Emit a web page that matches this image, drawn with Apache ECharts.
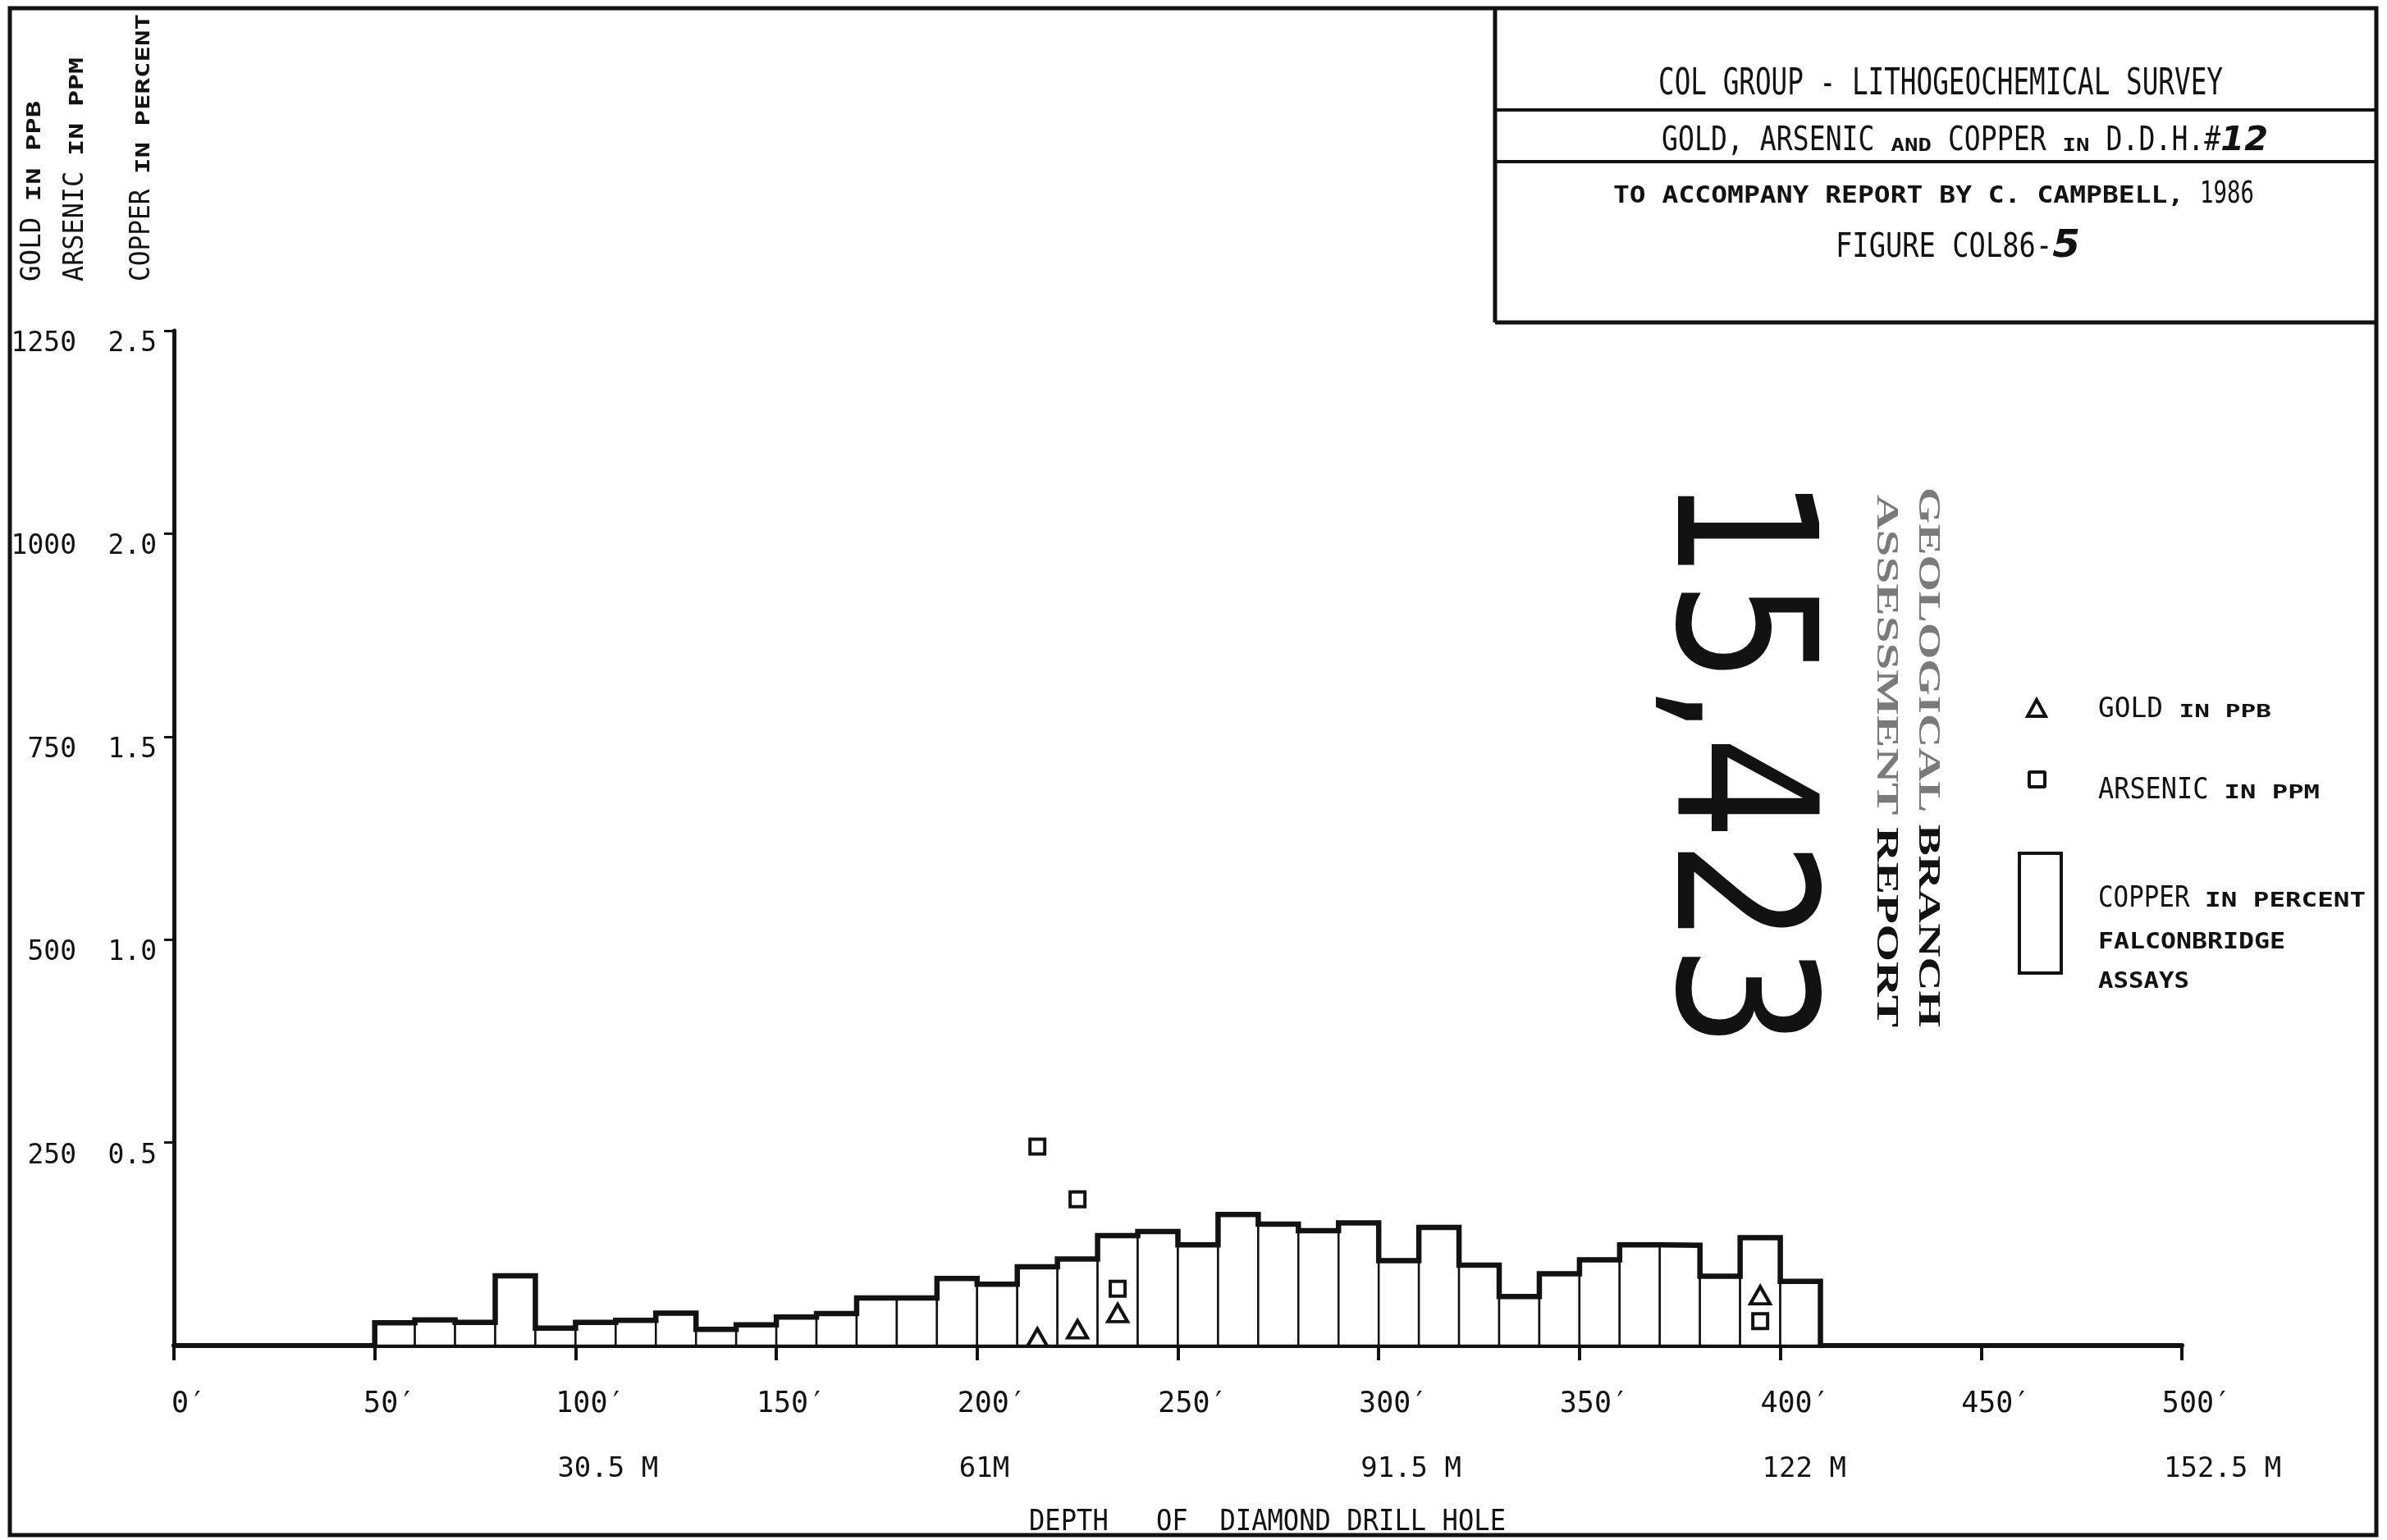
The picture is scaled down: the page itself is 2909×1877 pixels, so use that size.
<!DOCTYPE html>
<html>
<head>
<meta charset="utf-8">
<title>COL Group - Gold, Arsenic and Copper in D.D.H. #12</title>
<script src="https://cdn.jsdelivr.net/npm/echarts@6.0.0/dist/echarts.min.js"></script>
<style>
  html, body { margin: 0; padding: 0; background: #ffffff; }
  #chart { width: 2909px; height: 1877px; }
</style>
</head>
<body>
<div id="chart"></div>
<script>
// Copper assays (Falconbridge), one per 10-foot core interval
const sampleFrom = [50, 60, 70, 80, 90, 100, 110, 120, 130, 140, 150, 160, 170, 180, 190, 200, 210, 220,
                    230, 240, 250, 260, 270, 280, 290, 300, 310, 320, 330, 340, 350, 360, 370, 380, 390, 400];
const sampleTo   = [60, 70, 80, 90, 100, 110, 120, 130, 140, 150, 160, 170, 180, 190, 200, 210, 220, 230,
                    240, 250, 260, 270, 280, 290, 300, 310, 320, 330, 340, 350, 360, 370, 380, 390, 400, 410];
const copperPct  = [0.056, 0.063, 0.057, 0.172, 0.043, 0.057, 0.062, 0.080, 0.040, 0.051, 0.070, 0.079,
                    0.117, 0.117, 0.165, 0.151, 0.194, 0.213, 0.271, 0.281, 0.248, 0.323, 0.299, 0.283,
                    0.302, 0.209, 0.291, 0.198, 0.121, 0.177, 0.211, 0.248, 0.247, 0.171, 0.266, 0.158];

// Gold and arsenic determinations (depth in feet)
const assayDepth = [215, 225, 235, 395];
const goldPpb    = [10, 20, 40, 62];
const arsenicPpm = [245, 180, 70, 30];

// Metric equivalents printed under the foot scale
const metricFeet   = [100, 200, 300, 400, 500];
const metricLabels = ['30.5 M', '61M', '91.5 M', '122 M', '152.5 M'];

const INK = '#121212';

// ---- lettering helpers -------------------------------------------------
const STYLES = {
  plot:  { family: '"DejaVu Sans Mono"', weight: 'normal', style: 'normal', sx: 0.78 },
  caps:  { family: '"DejaVu Sans Mono"', weight: 'bold',   style: 'normal', sx: 1.2 },
  hand:  { family: '"DejaVu Sans"',      weight: 'bold',   style: 'italic', sx: 1.0 },
  stamp: { family: '"DejaVu Sans"',      weight: 'normal', style: 'normal', sx: 0.78 },
  serif: { family: '"Liberation Serif"', weight: 'bold',   style: 'normal', sx: 1.1 }
};
const measureCtx = document.createElement('canvas').getContext('2d');
function textWidth(str, st, size) {
  measureCtx.font = st.style + ' ' + st.weight + ' ' + size + 'px ' + st.family;
  return measureCtx.measureText(str).width;
}
// A run of differently styled pieces sharing one baseline, stretched to a given length.
function textRow(x, y, length, parts, opts) {
  opts = opts || {};
  const squash = opts.squash || 1;
  const natural = parts.reduce((s, p) => s + textWidth(p[0], STYLES[p[1]], p[2]) * STYLES[p[1]].sx, 0);
  const fit = length / natural;
  let cursor = 0;
  const children = parts.map(p => {
    const st = STYLES[p[1]];
    const size = p[2];
    const sx = st.sx * fit;
    const el = {
      type: 'text',
      x: cursor,
      y: -0.3 * size * squash,
      scaleX: sx,
      scaleY: squash,
      style: {
        text: p[0],
        fontFamily: st.family,
        fontWeight: st.weight,
        fontStyle: st.style,
        fontSize: size,
        fill: p[3] || INK,
        textAlign: 'left',
        textVerticalAlign: 'middle'
      }
    };
    cursor += textWidth(p[0], st, size) * sx;
    return el;
  });
  return { type: 'group', x: x, y: y, rotation: opts.rotation || 0, silent: true, children: children };
}
function line(x1, y1, x2, y2, w) {
  return { type: 'line', silent: true, shape: { x1, y1, x2, y2 }, style: { stroke: INK, lineWidth: w || 5 } };
}

// ---- series data -------------------------------------------------------
const copperBars = sampleFrom.map((f, i) => [f, sampleTo[i], copperPct[i]]);
const last = copperPct.length - 1;
const copperOutline = [[sampleFrom[0], 0]]
  .concat(sampleFrom.map((f, i) => [f, copperPct[i]]))
  .concat([[sampleTo[last], copperPct[last]], [sampleTo[last], 0]]);
const goldPoints = assayDepth.map((d, i) => [d, goldPpb[i]]);
const arsenicPoints = assayDepth.map((d, i) => [d, arsenicPpm[i]]);

const labelFont = { fontFamily: '"DejaVu Sans Mono"', color: INK };

const chart = echarts.init(document.getElementById('chart'));
chart.setOption({
  animation: false,
  backgroundColor: '#ffffff',
  grid: { left: 212, right: 250, top: 403, bottom: 237, containLabel: false, outerBoundsMode: 'none' },
  xAxis: [
    {
      type: 'value', min: 0, max: 500, interval: 50, position: 'bottom',
      axisLine: { show: true, onZero: false, lineStyle: { color: INK, width: 6 } },
      axisTick: { show: true, length: 18, lineStyle: { color: INK, width: 4 } },
      splitLine: { show: false },
      axisLabel: Object.assign({
        fontSize: 35, margin: 54, align: 'center', padding: [0, 0, 0, 36],
        formatter: v => v + '\u2032'
      }, labelFont)
    },
    {
      type: 'value', min: 0, max: 500, interval: 100, position: 'bottom',
      axisLine: { show: false }, axisTick: { show: false }, splitLine: { show: false },
      axisLabel: Object.assign({
        fontSize: 34, margin: 134, align: 'left', padding: [0, 0, 0, -22],
        showMinLabel: false,
        formatter: v => { const i = metricFeet.indexOf(v); return i >= 0 ? metricLabels[i] : ''; }
      }, labelFont)
    }
  ],
  yAxis: [
    {
      type: 'value', min: 0, max: 2.5, interval: 0.5, position: 'left',
      axisLine: { show: true, onZero: false, lineStyle: { color: INK, width: 5 } },
      axisTick: { show: true, length: 12, lineStyle: { color: INK, width: 3 } },
      splitLine: { show: false },
      axisLabel: Object.assign({
        fontSize: 33, margin: 21, showMinLabel: false, verticalAlign: 'top',
        formatter: v => v.toFixed(1)
      }, labelFont)
    },
    {
      type: 'value', min: 0, max: 1250, interval: 250, position: 'left',
      axisLine: { show: false }, axisTick: { show: false }, splitLine: { show: false },
      axisLabel: Object.assign({
        fontSize: 33, margin: 119, showMinLabel: false, verticalAlign: 'top',
        formatter: v => String(v)
      }, labelFont)
    }
  ],
  series: [
    {
      name: 'COPPER IN PERCENT',
      type: 'custom',
      xAxisIndex: 0, yAxisIndex: 0, z: 2,
      data: copperBars,
      encode: { x: [0, 1], y: 2 },
      renderItem: (params, api) => {
        const top = api.coord([api.value(0), api.value(2)]);
        const base = api.coord([api.value(1), 0]);
        return {
          type: 'rect',
          shape: { x: top[0], y: top[1], width: base[0] - top[0], height: base[1] - top[1] },
          style: { fill: '#ffffff', stroke: INK, lineWidth: 2.5 }
        };
      }
    },
    {
      name: 'COPPER OUTLINE',
      type: 'line', step: 'end', xAxisIndex: 0, yAxisIndex: 0, z: 3,
      data: copperOutline, symbol: 'none', silent: true,
      lineStyle: { color: INK, width: 6.5, join: 'miter', cap: 'square' }
    },
    {
      name: 'GOLD IN PPB',
      type: 'scatter', xAxisIndex: 0, yAxisIndex: 1, z: 4,
      data: goldPoints, symbol: 'triangle', symbolSize: [24, 21],
      itemStyle: { color: '#ffffff', borderColor: INK, borderWidth: 4, opacity: 1 }
    },
    {
      name: 'ARSENIC IN PPM',
      type: 'scatter', xAxisIndex: 0, yAxisIndex: 1, z: 4,
      data: arsenicPoints, symbol: 'rect', symbolSize: [18, 18],
      itemStyle: { color: '#ffffff', borderColor: INK, borderWidth: 4, opacity: 1 }
    }
  ],
  graphic: {
    elements: [
      // sheet border and title block
      { type: 'rect', silent: true, shape: { x: 12, y: 10, width: 2884, height: 1861 },
        style: { fill: 'none', stroke: INK, lineWidth: 5 } },
      line(1822, 10, 1822, 393, 5),
      line(1822, 134, 2896, 134, 4),
      line(1822, 197, 2896, 197, 4),
      line(1822, 393, 2896, 393, 5),
      textRow(2021, 117, 688, [['COL GROUP - LITHOGEOCHEMICAL SURVEY', 'plot', 44]]),
      textRow(2025, 185, 739, [['GOLD, ARSENIC ', 'plot', 41], ['AND', 'caps', 22], [' COPPER ', 'plot', 41],
                               ['IN', 'caps', 22], [' D.D.H.#', 'plot', 41], ['12', 'hand', 40]]),
      textRow(1966, 248, 781, [['TO ACCOMPANY REPORT BY C. CAMPBELL, ', 'caps', 29], ['1986', 'plot', 37]]),
      textRow(2237, 315, 298, [['FIGURE COL86-', 'plot', 41], ['5', 'hand', 46]]),

      // vertical axis titles
      textRow(50, 343, 220, [['GOLD ', 'plot', 34], ['IN PPB', 'caps', 23]], { rotation: Math.PI / 2 }),
      textRow(102, 343, 273, [['ARSENIC ', 'plot', 34], ['IN PPM', 'caps', 23]], { rotation: Math.PI / 2 }),
      textRow(183, 343, 326, [['COPPER ', 'plot', 34], ['IN PERCENT', 'caps', 23]], { rotation: Math.PI / 2 }),

      // horizontal axis title
      textRow(1254, 1866, 581, [['DEPTH   OF  DIAMOND DRILL HOLE', 'plot', 36]]),

      // assessment report stamp
      textRow(2036, 580, 698, [['15,423', 'stamp', 236]], { rotation: -Math.PI / 2 }),
      textRow(2337, 594, 658, [['GEOLOGICAL ', 'serif', 52, '#7a7a7a'], ['BRANCH', 'serif', 52]],
              { rotation: -Math.PI / 2, squash: 0.72 }),
      textRow(2286, 603, 649, [['ASSESSMENT ', 'serif', 52, '#7a7a7a'], ['REPORT', 'serif', 52]],
              { rotation: -Math.PI / 2, squash: 0.72 }),

      // key
      { type: 'polygon', silent: true, shape: { points: [[2471, 873], [2493, 873], [2482, 853]] },
        style: { fill: '#ffffff', stroke: INK, lineWidth: 4 } },
      { type: 'rect', silent: true, shape: { x: 2473, y: 941, width: 19, height: 18, r: 1 },
        style: { fill: '#ffffff', stroke: INK, lineWidth: 4 } },
      { type: 'rect', silent: true, shape: { x: 2461, y: 1040, width: 51, height: 146 },
        style: { fill: '#ffffff', stroke: INK, lineWidth: 4 } },
      textRow(2557, 875, 211, [['GOLD ', 'plot', 34], ['IN PPB', 'caps', 21]]),
      textRow(2557, 974, 270, [['ARSENIC ', 'plot', 35], ['IN PPM', 'caps', 23]]),
      textRow(2557, 1106, 326, [['COPPER ', 'plot', 35], ['IN PERCENT', 'caps', 24]]),
      textRow(2557, 1157, 228, [['FALCONBRIDGE', 'caps', 27]]),
      textRow(2557, 1205, 111, [['ASSAYS', 'caps', 27]])
    ]
  }
});
</script>
</body>
</html>
